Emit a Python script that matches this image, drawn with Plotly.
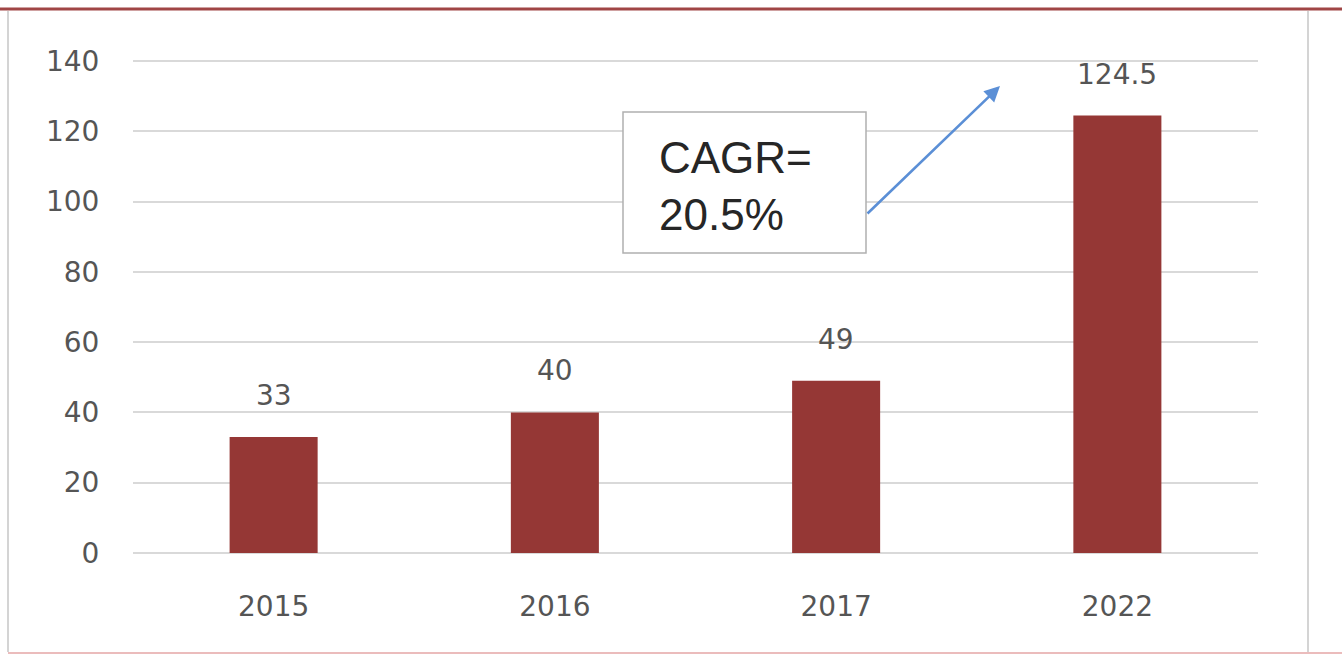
import plotly.graph_objects as go

years = ["2015", "2016", "2017", "2022"]
values = [33, 40, 49, 124.5]
value_labels = ["33", "40", "49", "124.5"]
y_ticks = [0, 20, 40, 60, 80, 100, 120, 140]
cagr_text = "CAGR=<br>20.5%"

W, H = 1342, 656
L, R, T, B = 133, 84, 60, 102
PW = W - L - R
PH = H - T - B

def px(x):
    return (x - L) / PW

def py(y):
    return (H - B - y) / PH

BAR = "#953735"
TXT = "#555555"
FONT = "DejaVu Sans"
GRID = "#d9d9d9"

pos = list(range(len(years)))

fig = go.Figure()
fig.add_trace(go.Bar(x=pos, y=values, width=0.313,
                     marker=dict(color=BAR, line=dict(width=0)), hoverinfo="skip"))

annotations = []
for p, v, lab in zip(pos, values, value_labels):
    annotations.append(dict(x=p, y=v, text=lab, showarrow=False, xref="x", yref="y",
                            yanchor="bottom", yshift=23,
                            font=dict(family=FONT, size=28, color=TXT)))

# CAGR box text
annotations.append(dict(xref="paper", yref="paper", x=px(657), y=py(186), text=cagr_text,
                        showarrow=False, xanchor="left", yanchor="middle", align="left",
                        font=dict(family="Liberation Sans", size=44, color="#262626")))
# arrow
annotations.append(dict(xref="paper", yref="paper", axref="pixel", ayref="pixel",
                        x=px(1000), y=py(86), ax=866 - 1000, ay=215 - 86, text="",
                        showarrow=True, arrowhead=2, arrowsize=1.2, arrowwidth=2.6,
                        arrowcolor="#5b8fd6"))

shapes = [
    dict(type="rect", xref="paper", yref="paper", x0=px(623), x1=px(866), y0=py(253), y1=py(112),
         line=dict(color="#b0b0b0", width=1.5), fillcolor="white", layer="above"),
    dict(type="line", xref="paper", yref="paper", x0=px(0), x1=px(W), y0=py(9), y1=py(9),
         line=dict(color="#a04545", width=3)),
    dict(type="line", xref="paper", yref="paper", x0=px(8), x1=px(8), y0=py(11), y1=py(652),
         line=dict(color="#d4d4d4", width=2)),
    dict(type="line", xref="paper", yref="paper", x0=px(1308), x1=px(1308), y0=py(11), y1=py(652),
         line=dict(color="#d4d4d4", width=2)),
    dict(type="line", xref="paper", yref="paper", x0=px(8), x1=px(1342), y0=py(653), y1=py(653),
         line=dict(color="#ebbcbc", width=2)),
]

fig.update_layout(
    width=W, height=H, autosize=False,
    margin=dict(l=L, r=R, t=T, b=B, pad=0),
    paper_bgcolor="white", plot_bgcolor="white",
    showlegend=False,
    annotations=annotations, shapes=shapes,
    xaxis=dict(range=[-0.5, len(years) - 0.5], tickvals=pos, ticktext=years,
               showgrid=False, showline=False, zeroline=False,
               ticks="outside", ticklen=27, tickcolor="rgba(0,0,0,0)",
               tickfont=dict(family=FONT, size=28, color=TXT)),
    yaxis=dict(range=[-0.3, 140.3], tickvals=y_ticks, showgrid=True, gridcolor=GRID, gridwidth=1.5,
               zeroline=True, zerolinecolor=GRID, zerolinewidth=1.5, showline=False,
               ticks="outside", ticklen=27, tickcolor="rgba(0,0,0,0)",
               tickfont=dict(family=FONT, size=28, color=TXT)),
)

fig.write_html("out.html")
